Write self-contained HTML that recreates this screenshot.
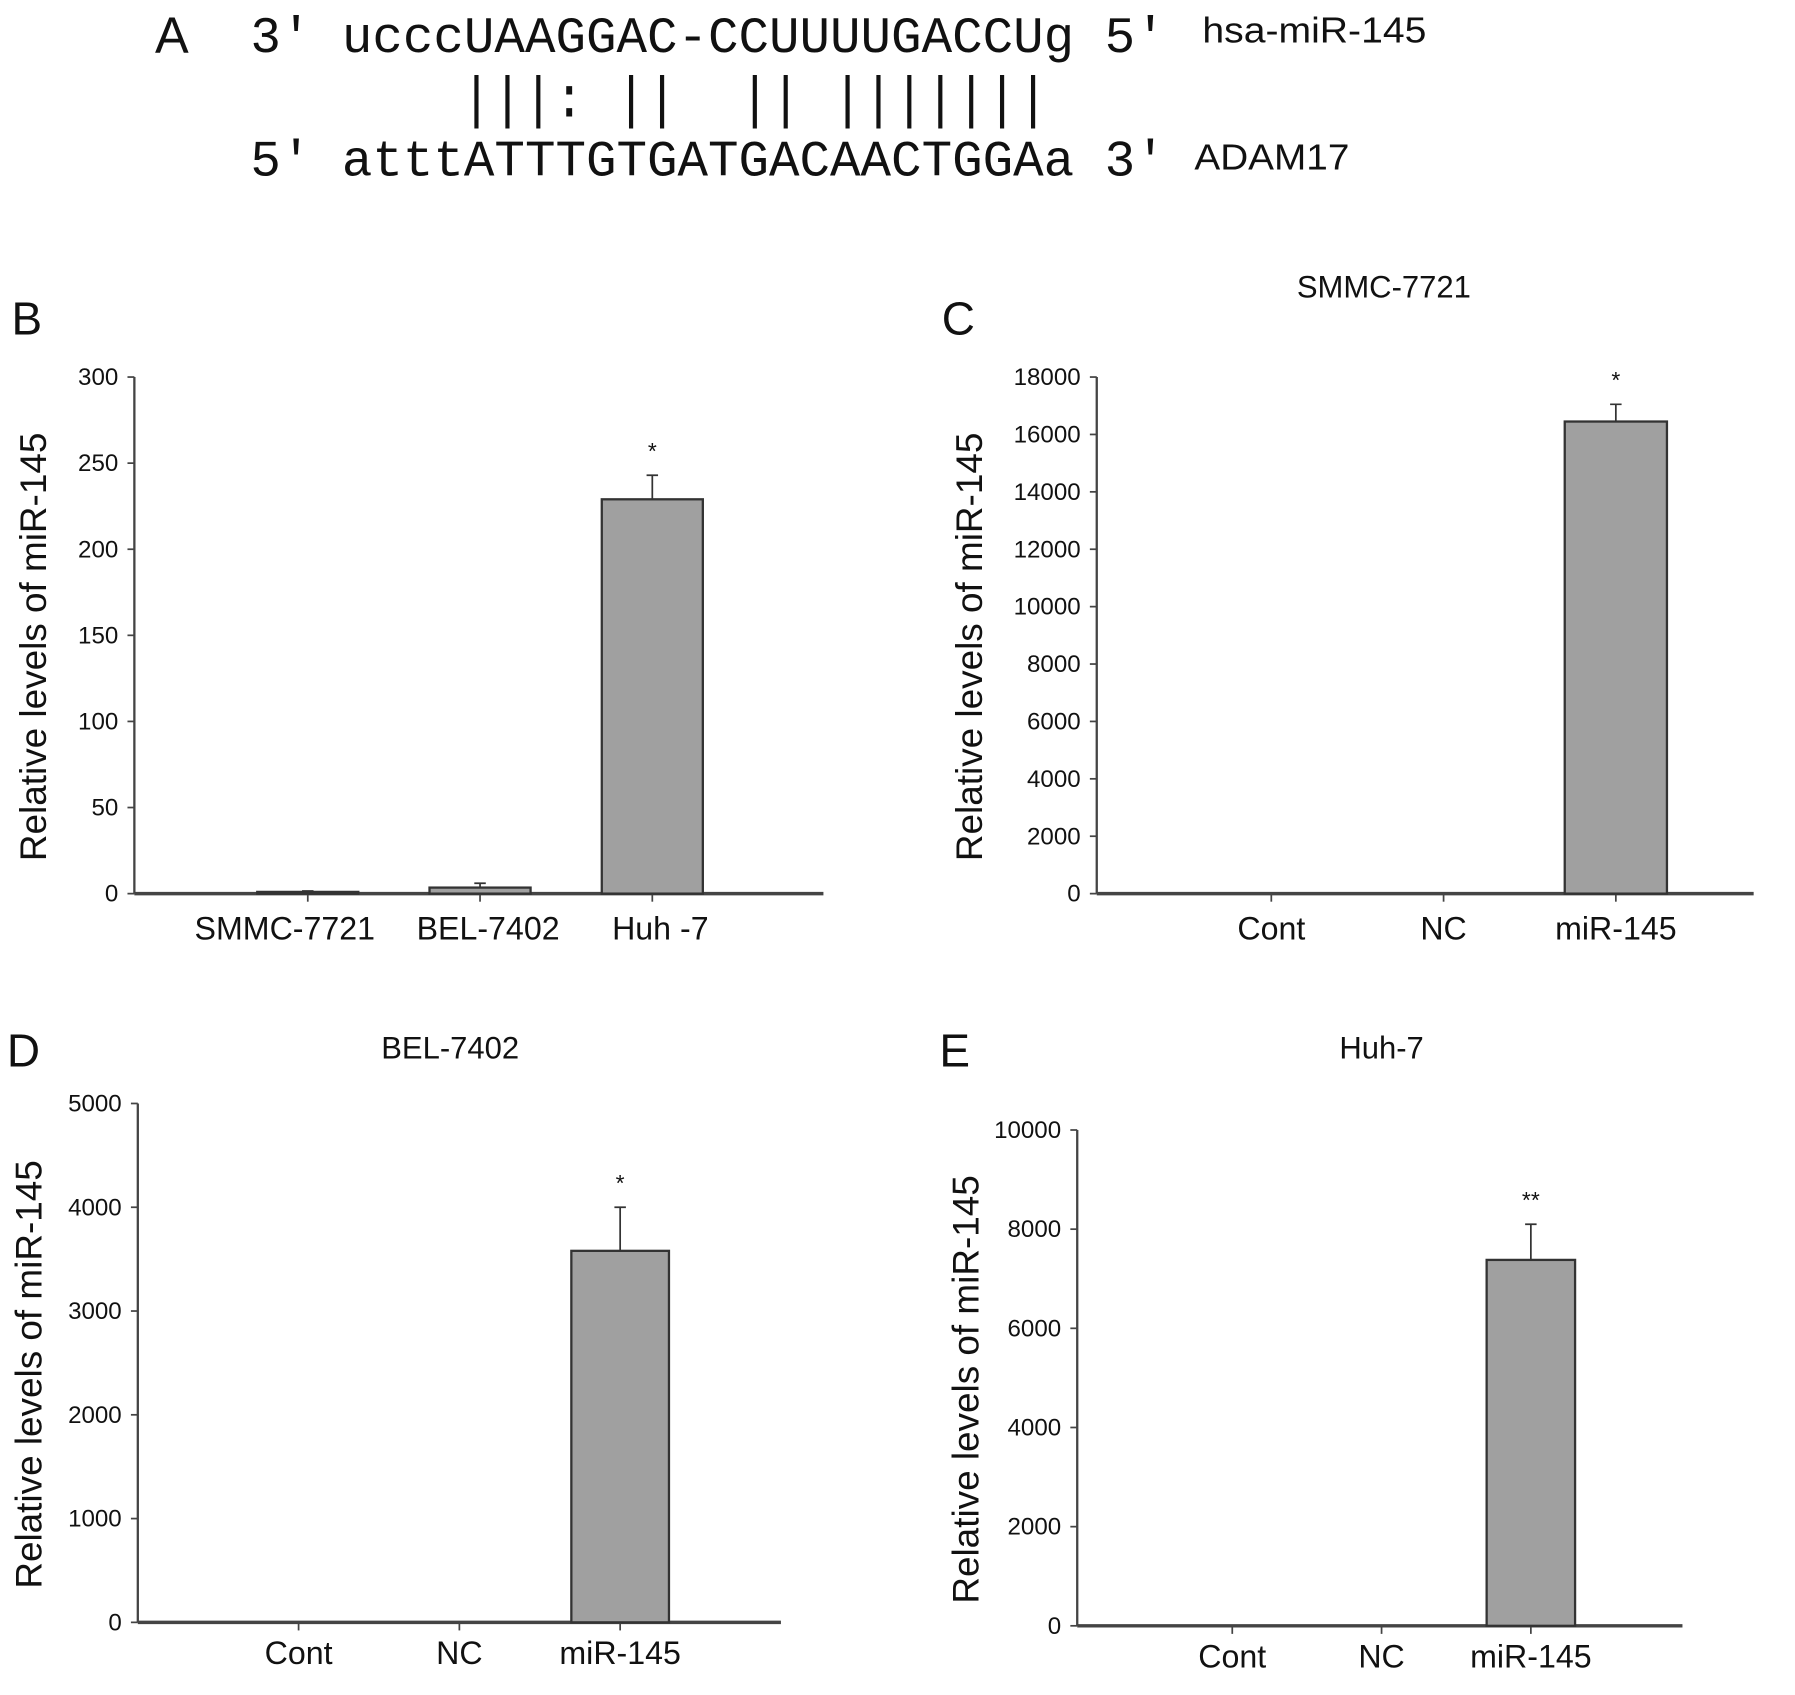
<!DOCTYPE html>
<html><head><meta charset="utf-8"><style>
html,body{margin:0;padding:0;background:#fff}
svg{display:block}
text{font-family:"Liberation Sans",sans-serif;fill:#111}
.mono{font-family:"Liberation Mono",monospace}
</style></head><body>
<svg id="fig" width="1795" height="1695" viewBox="0 0 1563 1470" preserveAspectRatio="none" xmlns="http://www.w3.org/2000/svg">
<g>
<text x="135" y="46" font-size="44">A</text>
<text class="mono" x="218" y="45" font-size="44" textLength="797" lengthAdjust="spacingAndGlyphs">3' ucccUAAGGAC-CCUUUUGACCUg 5'</text>
<text class="mono" x="213" y="101" font-size="50" textLength="700" lengthAdjust="spacingAndGlyphs" xml:space="preserve">       |||: ||  || |||||||</text>
<text class="mono" x="218" y="152" font-size="44" textLength="797" lengthAdjust="spacingAndGlyphs">5' atttATTTGTGATGACAACTGGAa 3'</text>
<text x="1047" y="37" font-size="31" textLength="195" lengthAdjust="spacingAndGlyphs">hsa-miR-145</text>
<text x="1040" y="147" font-size="31" textLength="135" lengthAdjust="spacingAndGlyphs">ADAM17</text>
</g>
</svg>
<script>
// Panel B
const bCats=["SMMC-7721","BEL-7402","Huh -7"];
const bVals=[1,3.5,229];
const bErrs=[0.5,2.5,14];
const bTicks=[0,50,100,150,200,250,300];
const bStars=["","","*"];
// Panel C
const cCats=["Cont","NC","miR-145"];
const cVals=[0,0,16450];
const cErrs=[0,0,600];
const cTicks=[0,2000,4000,6000,8000,10000,12000,14000,16000,18000];
const cStars=["","","*"];
// Panel D
const dCats=["Cont","NC","miR-145"];
const dVals=[0,0,3580];
const dErrs=[0,0,420];
const dTicks=[0,1000,2000,3000,4000,5000];
const dStars=["","","*"];
// Panel E
const eCats=["Cont","NC","miR-145"];
const eVals=[0,0,7380];
const eErrs=[0,0,720];
const eTicks=[0,2000,4000,6000,8000,10000];
const eStars=["","","**"];

const NS="http://www.w3.org/2000/svg";
const svg=document.getElementById('fig');
function mk(tag,attrs,parent,txt){const e=document.createElementNS(NS,tag);for(const k in attrs)e.setAttribute(k,attrs[k]);if(txt!==undefined)e.textContent=txt;parent.appendChild(e);return e;}

function panel(o){
  const g=mk('g',{},svg);
  
  
  const max=o.ticks[o.ticks.length-1];
  const y=v=>o.y0-(v/max)*(o.y0-o.yTop);
  const lab=mk('text',{x:o.labX,y:o.labY,'font-size':40},g,o.id.toUpperCase());
  
  
  if(o.title){const t=mk('text',{x:o.titleX,y:o.titleY,'font-size':27,'text-anchor':'middle'},g,o.title);
    
    }
  const ya=mk('line',{x1:o.x0,y1:o.yTop,x2:o.x0,y2:o.y0,stroke:'#444','stroke-width':2},g);
  
  
  const xa=mk('line',{x1:o.x0,y1:o.y0,x2:o.x1,y2:o.y0,stroke:'#444','stroke-width':3},g);
  
  
  o.ticks.forEach(t=>{
    const yy=y(t);
    mk('line',{x1:o.x0-6,y1:yy,x2:o.x0,y2:yy,stroke:'#444','stroke-width':1.5},g);
    const tl=mk('text',{x:o.x0-14,y:yy+7,'font-size':21,'text-anchor':'end'},g,String(t));
    
    
  });
  const yt=mk('text',{x:0,y:0,'font-size':32,'text-anchor':'middle',transform:`translate(${o.ytX},${(o.yTop+o.y0)/2+10}) rotate(-90)`},g,'Relative levels of miR-145');
  
  
  o.cats.forEach((c,i)=>{
    const cx=o.cx[i];
    mk('line',{x1:cx,y1:o.y0,x2:cx,y2:o.y0+7,stroke:'#444','stroke-width':1.5},g);
    const cl=mk('text',{x:cx+(o.lblOff?o.lblOff[i]:0),y:o.y0+o.catDy,'font-size':28,'text-anchor':'middle'},g,c);
    
    
    const v=o.vals[i];
    if(v>0){
      const top=y(v);
      const b=mk('rect',{x:cx-o.bw/2,y:top,width:o.bw,height:o.y0-top,fill:'#a0a0a0',stroke:'#333','stroke-width':2},g);
      
      
      if(o.errs[i]>0){
        const et=y(v+o.errs[i]);
        const el=mk('path',{d:`M${cx} ${top} V${et} M${cx-5} ${et} H${cx+5}`,stroke:'#333','stroke-width':1.5,fill:'none'},g);
        
        
      }
      if(o.stars[i]){
        const s=mk('text',{x:cx,y:y(v+o.errs[i])-14,'font-size':20,'text-anchor':'middle'},g,o.stars[i]);
        
        
      }
    }
  });
}
panel({id:'b',cats:bCats,vals:bVals,errs:bErrs,ticks:bTicks,stars:bStars,x0:117,x1:717,y0:775,yTop:327,cx:[268,418,568],lblOff:[-20,7,7],bw:88,labX:10,labY:290,ytX:40,catDy:40});
panel({id:'c',cats:cCats,vals:cVals,errs:cErrs,ticks:cTicks,stars:cStars,x0:955,x1:1527,y0:775,yTop:327,cx:[1107,1257,1407],bw:89,labX:820,labY:290,ytX:855,catDy:40,title:'SMMC-7721',titleX:1205,titleY:258});
panel({id:'d',cats:dCats,vals:dVals,errs:dErrs,ticks:dTicks,stars:dStars,x0:120,x1:680,y0:1407,yTop:957,cx:[260,400,540],bw:85,labX:6,labY:925,ytX:36,catDy:36,title:'BEL-7402',titleX:392,titleY:918});
panel({id:'e',cats:eCats,vals:eVals,errs:eErrs,ticks:eTicks,stars:eStars,x0:938,x1:1465,y0:1410,yTop:980,cx:[1073,1203,1333],bw:77,labX:818,labY:925,ytX:852,catDy:36,title:'Huh-7',titleX:1203,titleY:918});
</script>
</body></html>
